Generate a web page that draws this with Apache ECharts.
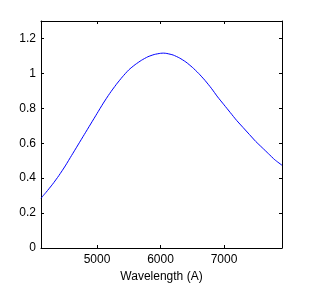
<!DOCTYPE html>
<html>
<head>
<meta charset="utf-8">
<script src="https://cdn.jsdelivr.net/npm/echarts@6/dist/echarts.min.js"></script>
<style>
  html, body { margin: 0; padding: 0; background: #fff; }
  #chart { width: 312px; height: 286px; }
</style>
</head>
<body>
<div id="chart"></div>
<script>
// curve
const wavelength = [4118, 4200, 4300, 4400, 4500, 4600, 4700, 4800, 4900, 5000,
    5100, 5200, 5300, 5400, 5500, 5600, 5700, 5800, 5900, 6000,
    6050, 6100, 6200, 6300, 6400, 6500, 6600, 6700, 6800, 6900,
    7000, 7100, 7200, 7300, 7400, 7500, 7600, 7700, 7800, 7913];
const flux = [0.285, 0.32, 0.365, 0.415, 0.47, 0.53, 0.59, 0.65, 0.71, 0.77,
    0.83, 0.885, 0.935, 0.98, 1.02, 1.05, 1.075, 1.095, 1.108, 1.115,
    1.116, 1.114, 1.105, 1.088, 1.065, 1.035, 1.0, 0.96, 0.915, 0.865,
    0.82, 0.775, 0.73, 0.69, 0.65, 0.61, 0.575, 0.54, 0.505, 0.474];
const x_ticks = [5000, 6000, 7000];
const y_ticks = [0, 0.2, 0.4, 0.6, 0.8, 1, 1.2];

const font = 'Liberation Sans, Arial, Helvetica, sans-serif';

function gen_x_axis(pos, show_label) {
    return {
        type: 'value',
        position: pos,
        min: 4118,
        max: 7913,
        name: show_label ? 'Wavelength (A)' : '',
        nameLocation: 'middle',
        nameGap: 22,
        nameTextStyle: {color: '#000', fontSize: 12, fontFamily: font},
        axisLine: {show: true, onZero: false, lineStyle: {color: '#000', width: 1}},
        axisTick: {show: true, inside: true, length: 3, customValues: x_ticks,
            lineStyle: {color: '#000'}},
        axisLabel: {show: show_label, customValues: x_ticks, margin: 6,
            formatter: (v) => String(v),
            color: '#000', fontSize: 12, fontFamily: font},
        splitLine: {show: false}
    };
}

function gen_y_axis(pos, show_label) {
    return {
        type: 'value',
        position: pos,
        min: 0,
        max: 1.3,
        axisLine: {show: true, onZero: false, lineStyle: {color: '#000', width: 1}},
        axisTick: {show: true, inside: true, length: 3, customValues: y_ticks,
            lineStyle: {color: '#000'}},
        axisLabel: {show: show_label, customValues: y_ticks, margin: 5,
            formatter: (v) => String(v),
            color: '#000', fontSize: 12, fontFamily: font},
        splitLine: {show: false}
    };
}

let chart = echarts.init(document.getElementById('chart'), null, {renderer: 'canvas'});

let option = {
    backgroundColor: '#fff',
    animation: false,
    grid: {left: 41, right: 30, top: 21, bottom: 38, containLabel: false, outerBoundsMode: 'none'},
    xAxis: [gen_x_axis('bottom', true), gen_x_axis('top', false)],
    yAxis: [gen_y_axis('left', true), gen_y_axis('right', false)],
    series: [{
        type: 'line',
        data: wavelength.map((w, i) => [w, flux[i]]),
        showSymbol: false,
        smooth: 0.2,
        lineStyle: {color: '#0000ff', width: 1},
        itemStyle: {color: '#0000ff'}
    }]
};
chart.setOption(option);
</script>
</body>
</html>
